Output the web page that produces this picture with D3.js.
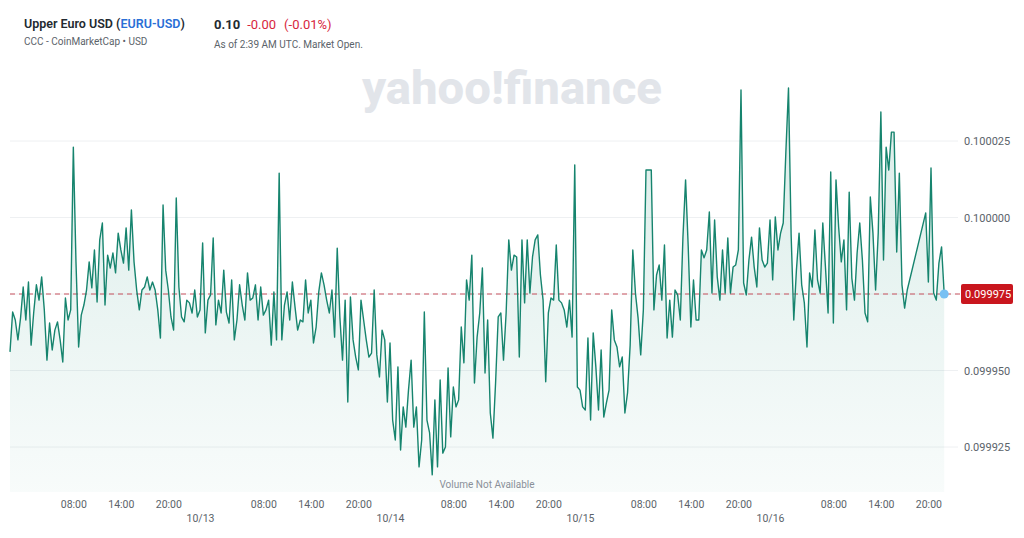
<!DOCTYPE html>
<html>
<head>
<meta charset="utf-8">
<script src="https://cdn.jsdelivr.net/npm/d3@7"></script>
<style>
  body { margin: 0; background: #fff; font-family: Roboto, "Helvetica Neue", Arial, sans-serif; }
  svg text { font-family: Roboto, "Helvetica Neue", Arial, sans-serif; }
</style>
</head>
<body>
<div id="chart"></div>
<script>
// 数据：10/12 00:00 UTC 起，每 20 分钟一个点（null = 缺数据，线直接连过去）
const startTime = Date.UTC(2024, 9, 12, 0, 0);
const stepMinutes = 20;

const prices = [
  // 10/12 00:00-06:00
  0.0999561, 0.0999691, 0.0999665, 0.0999600, 0.0999672, 0.0999773, 0.0999665, 0.0999789, 0.0999583,
  0.0999691, 0.0999780, 0.0999730, 0.0999806, 0.0999698, 0.0999534, 0.0999655, 0.0999567, 0.0999632,
  // 06:00-12:00
  0.0999659, 0.0999600, 0.0999528, 0.0999737, 0.0999665, 0.0999698, 0.1000230, 0.0999855, 0.0999577,
  0.0999681, 0.0999714, 0.0999763, 0.0999855, 0.0999770, 0.0999894, 0.0999724, 0.0999927, 0.0999982,
  // 12:00-18:00
  0.0999714, 0.0999877, 0.0999835, 0.0999884, 0.0999819, 0.0999949, 0.0999894, 0.0999851, 0.0999966,
  0.0999828, 0.1000025, 0.0999855, 0.0999763, 0.0999698, 0.0999763, 0.0999773, 0.0999806, 0.0999763,
  // 18:00-24:00
  0.0999789, 0.0999763, 0.0999698, 0.0999606, 0.1000041, 0.0999828, 0.0999763, 0.0999675, 0.0999632,
  0.1000064, 0.0999773, 0.0999675, 0.0999659, 0.0999730, 0.0999721, 0.0999688, 0.0999763, 0.0999675,
  // 10/13 00:00-06:00
  0.0999698, 0.0999917, 0.0999623, 0.0999730, 0.0999747, 0.0999933, 0.0999649, 0.0999730, 0.0999688,
  0.0999828, 0.0999691, 0.0999655, 0.0999796, 0.0999600, 0.0999665, 0.0999780, 0.0999714, 0.0999665,
  // 06:00-12:00
  0.0999819, 0.0999730, 0.0999737, 0.0999780, 0.0999665, 0.0999773, 0.0999681, 0.0999698, 0.0999730,
  0.0999583, 0.0999757, 0.0999600, 0.1000145, 0.0999600, 0.0999714, 0.0999757, 0.0999665, 0.0999789,
  // 12:00-18:00
  0.0999708, 0.0999632, 0.0999665, 0.0999659, 0.0999796, 0.0999688, 0.0999730, 0.0999590, 0.0999642,
  0.0999757, 0.0999819, 0.0999780, 0.0999730, 0.0999688, 0.0999763, 0.0999609, 0.0999900, 0.0999675,
  // 18:00-24:00
  0.0999534, 0.0999730, 0.0999397, 0.0999740, 0.0999600, 0.0999544, 0.0999502, 0.0999730, 0.0999665,
  0.0999600, 0.0999544, 0.0999557, 0.0999763, 0.0999551, 0.0999479, 0.0999632, 0.0999600, 0.0999397,
  // 10/14 00:00-06:00
  0.0999590, 0.0999338, 0.0999273, 0.0999512, 0.0999240, 0.0999381, 0.0999315, 0.0999436, 0.0999534,
  0.0999315, 0.0999381, 0.0999185, 0.0999273, 0.0999691, 0.0999338, 0.0999296, 0.0999159, 0.0999404,
  // 06:00-12:00
  0.0999185, 0.0999469, 0.0999230, 0.0999250, 0.0999508, 0.0999283, 0.0999446, 0.0999381, 0.0999404,
  0.0999642, 0.0999525, 0.0999796, 0.0999730, 0.0999877, 0.0999459, 0.0999609, 0.0999688, 0.0999835,
  // 12:00-18:00
  0.0999492, 0.0999665, 0.0999361, 0.0999279, 0.0999459, 0.0999675, 0.0999688, 0.0999534, 0.0999688,
  0.0999927, 0.0999828, 0.0999877, 0.0999871, 0.0999544, 0.0999927, 0.0999721, 0.0999927, 0.0999753,
  // 18:00-24:00
  0.0999871, 0.0999927, 0.0999943, 0.0999812, 0.0999730, 0.0999463, 0.0999688, 0.0999737, 0.0999730,
  0.0999910, 0.0999730, 0.0999721, 0.0999698, 0.0999642, 0.0999730, 0.0999609, 0.1000172, 0.0999446,
  // 10/15 00:00-06:00
  0.0999436, 0.0999381, 0.0999371, 0.0999606, 0.0999338, 0.0999623, 0.0999512, 0.0999371, 0.0999567,
  0.0999348, 0.0999394, 0.0999436, 0.0999698, 0.0999600, 0.0999577, 0.0999512, 0.0999544, 0.0999361,
  // 06:00-12:00
  0.0999427, 0.0999583, 0.0999894, 0.0999753, 0.0999672, 0.0999551, 0.0999698, 0.1000155, 0.1000155,
  0.1000155, 0.0999698, 0.0999812, 0.0999845, 0.0999730, 0.0999910, 0.0999606, 0.0999730, 0.0999609,
  // 12:00-18:00
  0.0999763, 0.0999747, 0.0999665, 0.0999936, 0.1000123, 0.0999904, 0.0999642, 0.0999796, 0.0999665,
  0.0999665, 0.0999894, 0.0999868, 0.0999894, 0.1000018, 0.0999753, 0.0999992, 0.0999806, 0.0999730,
  // 18:00-24:00
  0.0999894, 0.0999753, 0.0999933, 0.0999753, 0.0999838, 0.0999845, 0.0999894, 0.1000417, 0.0999786,
  0.0999747, 0.0999861, 0.0999936, 0.0999838, 0.0999773, 0.0999966, 0.0999861, 0.0999838, 0.0999851,
  // 10/16 00:00-06:00
  0.0999992, 0.0999796, 0.1000002, 0.0999894, 0.0999949, 0.0999982, 0.1000214, 0.1000423, 0.0999943,
  0.0999665, 0.0999828, 0.0999949, 0.0999780, 0.0999721, 0.0999577, 0.0999819, 0.0999773, 0.0999959,
  // 06:00-12:00
  0.0999796, 0.0999753, 0.0999982, 0.0999838, 0.0999688, 0.1000149, 0.0999655, 0.1000123, 0.0999969,
  0.0999855, 0.0999927, 0.0999698, 0.1000083, 0.0999802, 0.0999730, 0.0999884, 0.0999982, 0.0999861,
  // 12:00-18:00
  0.0999688, 0.0999659, 0.1000067, 0.0999949, 0.0999763, 0.0999949, 0.1000345, 0.0999861, 0.1000230,
  0.1000155, 0.1000279, 0.1000279, 0.0999887, 0.1000145, 0.0999780, 0.0999704, 0.0999763, null,
  // 18:00-22:00
  null, null, null, null, null, 0.1000015, 0.0999789, 0.1000162, 0.0999753,
  0.0999730, 0.0999851, 0.0999904, 0.0999750
];

const prevClose = 0.099975;
const yTicks = [0.099925, 0.099950, 0.099975, 0.100000, 0.100025];
const hourTicks = [8, 14, 20];

const quoteTitle = "Upper Euro USD";
const quoteSymbol = "EURU-USD";
const quoteSource = "CCC - CoinMarketCap • USD";
const quotePrice = "0.10";
const quoteChange = "-0.00";
const quoteChangePct = "(-0.01%)";
const quoteTime = "As of 2:39 AM UTC. Market Open.";

// 画布
const width = 1024;
const height = 538;
const plotLeft = 10;
const plotRight = 944.2;
const gridRight = 958;
const plotBottom = 492;

const data = prices.map((v, i) => ({
    t: new Date(startTime + i * stepMinutes * 60000),
    v: v
})).filter(d => d.v !== null);

const svg = d3.select("#chart")
    .append("svg")
    .attr("width", width)
    .attr("height", height);

const x = d3.scaleUtc()
    .domain([new Date(startTime), new Date(startTime + (prices.length - 1) * stepMinutes * 60000)])
    .range([plotLeft, plotRight]);

const y = d3.scaleLinear()
    .domain([yTicks[0], yTicks[yTicks.length - 1]])
    .range([447, 141]);

// 标题
const header = svg.append("g");
const title = header.append("text")
    .attr("x", 24).attr("y", 28)
    .attr("font-size", 12.5).attr("font-weight", 600).attr("fill", "#232a31");
title.append("tspan").text(quoteTitle + " (");
title.append("tspan").attr("fill", "#2a6fd6").text(quoteSymbol);
title.append("tspan").text(")");

header.append("text")
    .attr("x", 24).attr("y", 45)
    .attr("font-size", 10).attr("fill", "#5b636a")
    .text(quoteSource);

const price = header.append("text")
    .attr("x", 214).attr("y", 29)
    .attr("font-size", 13);
price.append("tspan").attr("font-weight", 700).attr("fill", "#232a31").text(quotePrice);
price.append("tspan").attr("dx", 7).attr("fill", "#d7263d").text(quoteChange);
price.append("tspan").attr("dx", 8).attr("fill", "#d7263d").text(quoteChangePct);

header.append("text")
    .attr("x", 214).attr("y", 48)
    .attr("font-size", 10).attr("fill", "#5b636a")
    .text(quoteTime);

// 水印
svg.append("text")
    .attr("x", 362).attr("y", 104)
    .attr("font-family", "'Open Sans', sans-serif")
    .attr("font-size", 46).attr("font-weight", 800)
    .attr("fill", "#e2e5ea")
    .attr("textLength", 300).attr("lengthAdjust", "spacingAndGlyphs")
    .text("yahoo!finance");

// 网格线
svg.append("g").selectAll("line")
    .data(yTicks)
    .enter()
    .append("line")
    .attr("x1", plotLeft).attr("x2", gridRight)
    .attr("y1", d => y(d)).attr("y2", d => y(d))
    .attr("stroke", "#eef0f2").attr("stroke-width", 1);

// 面积渐变
const defs = svg.append("defs");
const grad = defs.append("linearGradient")
    .attr("id", "areaFill")
    .attr("gradientUnits", "userSpaceOnUse")
    .attr("x1", 0).attr("x2", 0).attr("y1", 90).attr("y2", plotBottom);
grad.append("stop").attr("offset", "0%").attr("stop-color", "#138a72").attr("stop-opacity", 0.16);
grad.append("stop").attr("offset", "100%").attr("stop-color", "#138a72").attr("stop-opacity", 0.03);

const area = d3.area()
    .x(d => x(d.t))
    .y0(plotBottom)
    .y1(d => y(d.v));

svg.append("path")
    .datum(data)
    .attr("d", area)
    .attr("fill", "url(#areaFill)");

// 前收盘虚线
svg.append("line")
    .attr("x1", plotLeft).attr("x2", 961)
    .attr("y1", y(prevClose)).attr("y2", y(prevClose))
    .attr("stroke", "#c8525e").attr("stroke-width", 1)
    .attr("stroke-dasharray", "5,4");

// 价格线
const line = d3.line()
    .x(d => x(d.t))
    .y(d => y(d.v));

svg.append("path")
    .datum(data)
    .attr("d", line)
    .attr("fill", "none")
    .attr("stroke", "#16846e")
    .attr("stroke-width", 1.4)
    .attr("stroke-linejoin", "round");

// 最新点
const last = data[data.length - 1];
svg.append("circle")
    .attr("cx", x(last.t)).attr("cy", y(last.v))
    .attr("r", 4.5)
    .attr("fill", "#78c0f3");

// Y 轴
const yAxis = svg.append("g")
    .attr("transform", "translate(964,0)")
    .call(d3.axisRight(y).tickValues(yTicks).tickFormat(d3.format(".6f")).tickSize(0).tickPadding(0));
yAxis.select(".domain").remove();
yAxis.selectAll("text")
    .attr("font-size", 11)
    .attr("font-family", "Roboto, Arial, sans-serif")
    .attr("fill", d => d === prevClose ? "none" : "#5b636a");

// 前收盘标签
svg.append("rect")
    .attr("x", 961).attr("y", y(prevClose) - 10)
    .attr("width", 52).attr("height", 20)
    .attr("rx", 2)
    .attr("fill", "#c9161e");
svg.append("text")
    .attr("x", 965).attr("y", y(prevClose))
    .attr("dy", "0.35em")
    .attr("font-size", 11).attr("fill", "#fff")
    .text(d3.format(".6f")(prevClose));

// X 轴：小时
const hourValues = d3.utcHours(x.domain()[0], x.domain()[1])
    .filter(d => hourTicks.includes(d.getUTCHours()));
const xAxisHours = svg.append("g")
    .attr("transform", `translate(0,${plotBottom + 9})`)
    .call(d3.axisBottom(x).tickValues(hourValues).tickFormat(d3.utcFormat("%H:%M")).tickSize(0).tickPadding(0));
xAxisHours.select(".domain").remove();
xAxisHours.selectAll("text").attr("font-size", 10.5).attr("fill", "#5b636a");

// X 轴：日期
const dayValues = d3.utcDays(new Date(startTime + 1), x.domain()[1]);
const xAxisDays = svg.append("g")
    .attr("transform", `translate(0,${plotBottom + 23})`)
    .call(d3.axisBottom(x).tickValues(dayValues).tickFormat(d3.utcFormat("%m/%d")).tickSize(0).tickPadding(0));
xAxisDays.select(".domain").remove();
xAxisDays.selectAll("text").attr("font-size", 10.5).attr("fill", "#5b636a");

svg.append("text")
    .attr("x", 487).attr("y", 488)
    .attr("text-anchor", "middle")
    .attr("font-size", 10).attr("fill", "#8a9099")
    .text("Volume Not Available");
</script>
</body>
</html>
